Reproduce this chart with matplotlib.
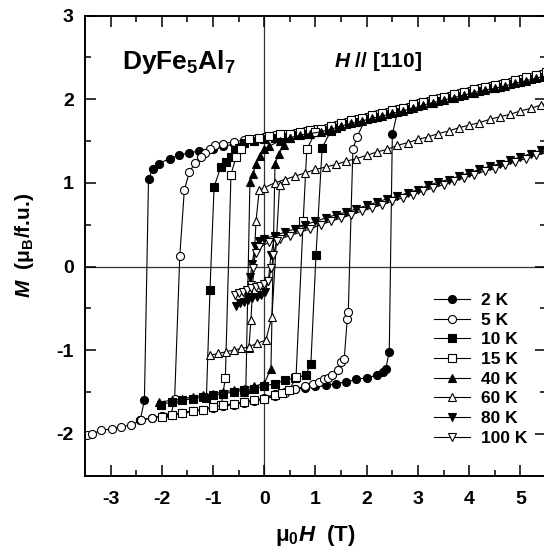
import matplotlib
matplotlib.use("Agg")
import matplotlib.pyplot as plt
from matplotlib.ticker import MultipleLocator

plt.rcParams['font.family'] = ['Liberation Sans', 'DejaVu Sans']
plt.rcParams['font.weight'] = 'bold'
plt.rcParams['axes.unicode_minus'] = False
plt.rcParams['mathtext.fontset'] = 'custom'
plt.rcParams['mathtext.rm'] = 'Liberation Sans:bold'
plt.rcParams['mathtext.it'] = 'Liberation Sans:bold:italic'
plt.rcParams['mathtext.bf'] = 'Liberation Sans:bold'

# field grids for the high-field (reversible) part of the loops
H_UP = [5.6, 5.4, 5.2, 5.0, 4.8, 4.6, 4.4, 4.2, 4.0, 3.8, 3.6, 3.4, 3.2, 3.0,
        2.8, 2.6, 2.4, 2.2, 2.0, 1.8, 1.6, 1.4, 1.2, 1.0, 0.8, 0.6, 0.4, 0.2,
        0.0, -0.2, -0.4, -0.6, -0.8]
H_UP_ODD = [5.5, 5.3, 5.1, 4.9, 4.7, 4.5, 4.3, 4.1, 3.9, 3.7, 3.5, 3.3, 3.1,
            2.9, 2.7, 2.5, 2.3, 2.1, 1.9, 1.7, 1.5, 1.3, 1.1, 0.9, 0.7, 0.5,
            0.3, 0.1]
M_UP_OPEN = [2.33, 2.30, 2.27, 2.24, 2.21, 2.18, 2.16, 2.13, 2.10, 2.07, 2.04,
             2.01, 1.98, 1.95, 1.91, 1.88, 1.85, 1.82, 1.79, 1.76, 1.73, 1.69,
             1.66, 1.64, 1.62, 1.60, 1.58, 1.57, 1.55, 1.53, 1.51, 1.49, 1.47]
M_UP_FILL = [2.30, 2.27, 2.24, 2.21, 2.18, 2.15, 2.13, 2.10, 2.07, 2.04, 2.01,
             1.98, 1.95, 1.92, 1.88, 1.85, 1.82, 1.79, 1.76, 1.73, 1.70, 1.66,
             1.63, 1.61, 1.59, 1.57, 1.55, 1.54, 1.52, 1.50, 1.48, 1.46, 1.44]

# 2 K
h2_dn = H_UP + [-1.0, -1.27, -1.46, -1.66, -1.85, -2.06, -2.18, -2.26, -2.34, -2.42]
m2_dn = M_UP_FILL + [1.41, 1.38, 1.36, 1.33, 1.29, 1.23, 1.16, 1.05, -1.60, -1.83]
h2_up = [-2.42, -2.2, -2.0, -1.8, -1.6, -1.4, -1.2, -1.0, -0.8, -0.6, -0.4, -0.2,
         0.0, 0.2, 0.4, 0.6, 0.8, 1.0, 1.2, 1.4, 1.6, 1.8, 2.0, 2.2, 2.31, 2.37,
         2.44, 2.5, 2.6]
m2_up = [-1.83, -1.81, -1.79, -1.77, -1.75, -1.73, -1.71, -1.68, -1.66, -1.64,
         -1.62, -1.60, -1.57, -1.53, -1.50, -1.47, -1.45, -1.43, -1.42, -1.40,
         -1.38, -1.35, -1.33, -1.30, -1.26, -1.23, -1.02, 1.58, 1.85]

# 5 K
h5_dn = H_UP + [-0.96, -1.06, -1.15, -1.24, -1.35, -1.46, -1.56, -1.65, -1.75, -1.82]
m5_dn = M_UP_OPEN + [1.45, 1.40, 1.36, 1.31, 1.24, 1.13, 0.92, 0.12, -1.58, -1.77]
h5_up = [-3.47, -3.37, -3.18, -2.98, -2.79, -2.6, -2.4, -2.2, -2.0, -1.8, -1.6,
         -1.4, -1.2, -1.0, -0.8, -0.6, -0.4, -0.2, 0.0, 0.2, 0.4, 0.6, 0.8, 0.95,
         1.07, 1.16, 1.24, 1.33, 1.43, 1.5, 1.56, 1.62, 1.64, 1.73, 1.81, 2.0]
m5_up = [-2.01, -2.00, -1.96, -1.94, -1.92, -1.89, -1.84, -1.81, -1.79, -1.77,
         -1.75, -1.73, -1.71, -1.69, -1.67, -1.65, -1.63, -1.61, -1.59, -1.55,
         -1.51, -1.47, -1.43, -1.40, -1.38, -1.35, -1.33, -1.30, -1.24, -1.14,
         -1.11, -0.63, -0.54, 1.40, 1.55, 1.79]

# 10 K
h10_dn = H_UP[:31] + [-0.5, -0.58, -0.65, -0.75, -0.85, -0.98, -1.06, -1.13]
m10_dn = M_UP_FILL[:31] + [1.42, 1.37, 1.31, 1.25, 1.19, 0.95, -0.28, -1.57]
h10_up = [-2.02, -1.8, -1.6, -1.4, -1.2, -1.0, -0.8, -0.6, -0.4, -0.2, 0.0, 0.2,
          0.4, 0.6, 0.81, 0.91, 1.01, 1.13, 1.3]
m10_up = [-1.65, -1.62, -1.60, -1.58, -1.56, -1.54, -1.52, -1.50, -1.48, -1.46,
          -1.43, -1.40, -1.36, -1.33, -1.30, -1.16, 0.14, 1.42, 1.62]

# 15 K
h15_dn = H_UP_ODD + [-0.1, -0.3, -0.46, -0.55, -0.65, -0.76, -0.84]
m15_dn = [2.32, 2.29, 2.26, 2.23, 2.20, 2.17, 2.15, 2.12, 2.09, 2.06, 2.03,
          2.00, 1.97, 1.94, 1.90, 1.87, 1.84, 1.81, 1.78, 1.75, 1.72, 1.68,
          1.65, 1.63, 1.61, 1.59, 1.58, 1.56] + [1.54, 1.52, 1.41, 1.31, 1.10,
                                                 -1.33, -1.66]
h15_up = [-2.0, -1.8, -1.6, -1.4, -1.2, -1.0, -0.8, -0.6, -0.4, -0.2, 0.0, 0.2,
          0.35, 0.49, 0.62, 0.76, 0.83, 1.0]
m15_up = [-1.80, -1.78, -1.75, -1.73, -1.71, -1.68, -1.66, -1.64, -1.62, -1.60,
          -1.58, -1.54, -1.51, -1.48, -1.32, 0.55, 1.40, 1.61]

# 40 K
h40_dn = H_UP_ODD[:25] + [0.5, 0.3, 0.1, 0.0, -0.09, -0.16, -0.22, -0.28, -0.36, -0.40]
m40_dn = [2.28, 2.25, 2.22, 2.19, 2.16, 2.13, 2.11, 2.08, 2.05, 2.02, 1.99,
          1.96, 1.93, 1.89, 1.86, 1.83, 1.80, 1.77, 1.74, 1.71, 1.68, 1.64,
          1.61, 1.59, 1.57] + [1.54, 1.50, 1.44, 1.40, 1.32, 1.23, 1.11, 1.01,
                               -1.46, -1.50]
h40_up = [-2.05, -1.8, -1.6, -1.4, -1.2, -1.0, -0.8, -0.6, -0.4, -0.2, 0.0, 0.13,
          0.21, 0.28, 0.38, 0.5]
m40_up = [-1.62, -1.60, -1.58, -1.56, -1.54, -1.52, -1.50, -1.48, -1.46, -1.43,
          -1.40, -1.22, 1.23, 1.34, 1.45, 1.54]

# 60 K
h60_dn = H_UP[:29] + [-0.1, -0.16, -0.26, -0.30]
m60_dn = [1.97, 1.93, 1.89, 1.86, 1.82, 1.79, 1.76, 1.72, 1.69, 1.66, 1.62,
          1.59, 1.55, 1.52, 1.48, 1.45, 1.40, 1.37, 1.33, 1.29, 1.26, 1.22,
          1.19, 1.16, 1.12, 1.08, 1.04, 1.00, 0.94] + [0.91, 0.55, -0.64, -0.97]
h60_up = [-1.05, -0.9, -0.75, -0.6, -0.45, -0.3, -0.15, 0.03, 0.15, 0.30]
m60_up = [-1.06, -1.04, -1.02, -1.00, -0.98, -0.96, -0.92, -0.88, -0.60, 0.98]

# 80 K
h80_dn = H_UP[:29] + [-0.1, -0.18, -0.24, -0.27, -0.32]
m80_dn = [1.42, 1.39, 1.35, 1.31, 1.27, 1.23, 1.20, 1.16, 1.12, 1.08, 1.04,
          1.01, 0.97, 0.92, 0.88, 0.84, 0.81, 0.77, 0.73, 0.69, 0.65, 0.62,
          0.58, 0.54, 0.50, 0.45, 0.41, 0.37, 0.33] + [0.31, 0.24, 0.03, -0.12, -0.37]
h80_up = [-0.55, -0.47, -0.39, -0.31, -0.23, -0.15, -0.07, 0.01, 0.08, 0.13, 0.20]
m80_up = [-0.47, -0.44, -0.42, -0.40, -0.38, -0.36, -0.34, -0.31, -0.17, 0.14, 0.35]

# 100 K
h100_dn = H_UP_ODD + [-0.1, -0.17, -0.22, -0.26]
m100_dn = [1.36, 1.33, 1.29, 1.25, 1.21, 1.17, 1.14, 1.10, 1.06, 1.02, 0.98,
           0.94, 0.90, 0.86, 0.82, 0.78, 0.74, 0.70, 0.66, 0.62, 0.58, 0.54,
           0.50, 0.45, 0.41, 0.37, 0.33, 0.29] + [0.23, 0.16, -0.02, -0.22]
h100_up = [-0.57, -0.49, -0.41, -0.33, -0.25, -0.17, -0.09, 0.0, 0.08, 0.14, 0.18, 0.24]
m100_up = [-0.34, -0.32, -0.30, -0.28, -0.26, -0.25, -0.23, -0.21, -0.17, -0.02, 0.14, 0.30]

labels = ['2 K', '5 K', '10 K', '15 K', '40 K', '60 K', '80 K', '100 K']
markers = ['o', 'o', 's', 's', '^', '^', 'v', 'v']
faces = ['k', 'w', 'k', 'w', 'k', 'w', 'k', 'w']
msizes = [5.8, 5.8, 5.2, 5.2, 5.8, 5.8, 5.8, 5.8]
loops = [(h2_dn, m2_dn, h2_up, m2_up), (h5_dn, m5_dn, h5_up, m5_up),
         (h10_dn, m10_dn, h10_up, m10_up), (h15_dn, m15_dn, h15_up, m15_up),
         (h40_dn, m40_dn, h40_up, m40_up), (h60_dn, m60_dn, h60_up, m60_up),
         (h80_dn, m80_dn, h80_up, m80_up), (h100_dn, m100_dn, h100_up, m100_up)]

fig = plt.figure(figsize=(5.44, 5.51), dpi=100)
ax = fig.add_axes([85/544, 75.4/551, 461/544, 460/551])

ax.axhline(0, color='#333333', lw=0.9, zorder=1)
ax.axvline(0, color='#333333', lw=0.9, zorder=1)

for (hd, md, hu, mu), lab, mk, fc, ms in zip(loops, labels, markers, faces, msizes):
    kw = dict(color='k', lw=0.8, marker=mk, ms=ms, mfc=fc, mec='k', mew=0.8)
    ax.plot(hd, md, label=lab, **kw)
    ax.plot(hu, mu, **kw)

ax.set_xlim(-3.5, 5.5)
ax.set_ylim(-2.5, 3)
ax.xaxis.set_major_locator(MultipleLocator(1))
ax.xaxis.set_minor_locator(MultipleLocator(0.5))
ax.yaxis.set_major_locator(MultipleLocator(1))
ax.yaxis.set_minor_locator(MultipleLocator(0.5))
ax.tick_params(which='both', direction='in', top=True, right=True, width=1.1)
ax.tick_params(which='major', length=8, labelsize=14, pad=11)
ax.tick_params(which='minor', length=4.5)
ax.tick_params(axis='y', which='major', pad=8)
for sp in ax.spines.values():
    sp.set_linewidth(1.4)

ax.set_xlabel(r'$\mathrm{\mu_0}H$  (T)', fontsize=16, fontweight='bold', labelpad=11)
ax.set_ylabel(r'$M$  ($\mathrm{\mu_B}$/f.u.)', fontsize=15, fontweight='bold', labelpad=15)

ax.text(-2.78, 2.45, r'DyFe$_\mathrm{5}$Al$_\mathrm{7}$', fontsize=19, va='center')
ax.text(1.37, 2.45, r'$H$ // [110]', fontsize=15, va='center')

ax.legend(loc='upper left', bbox_to_anchor=(0.757, 0.397), frameon=False,
          fontsize=12.5, handlelength=2.1, handletextpad=0.6, labelspacing=0.26,
          borderpad=0, borderaxespad=0)

fig.savefig('out.png', dpi=100)
